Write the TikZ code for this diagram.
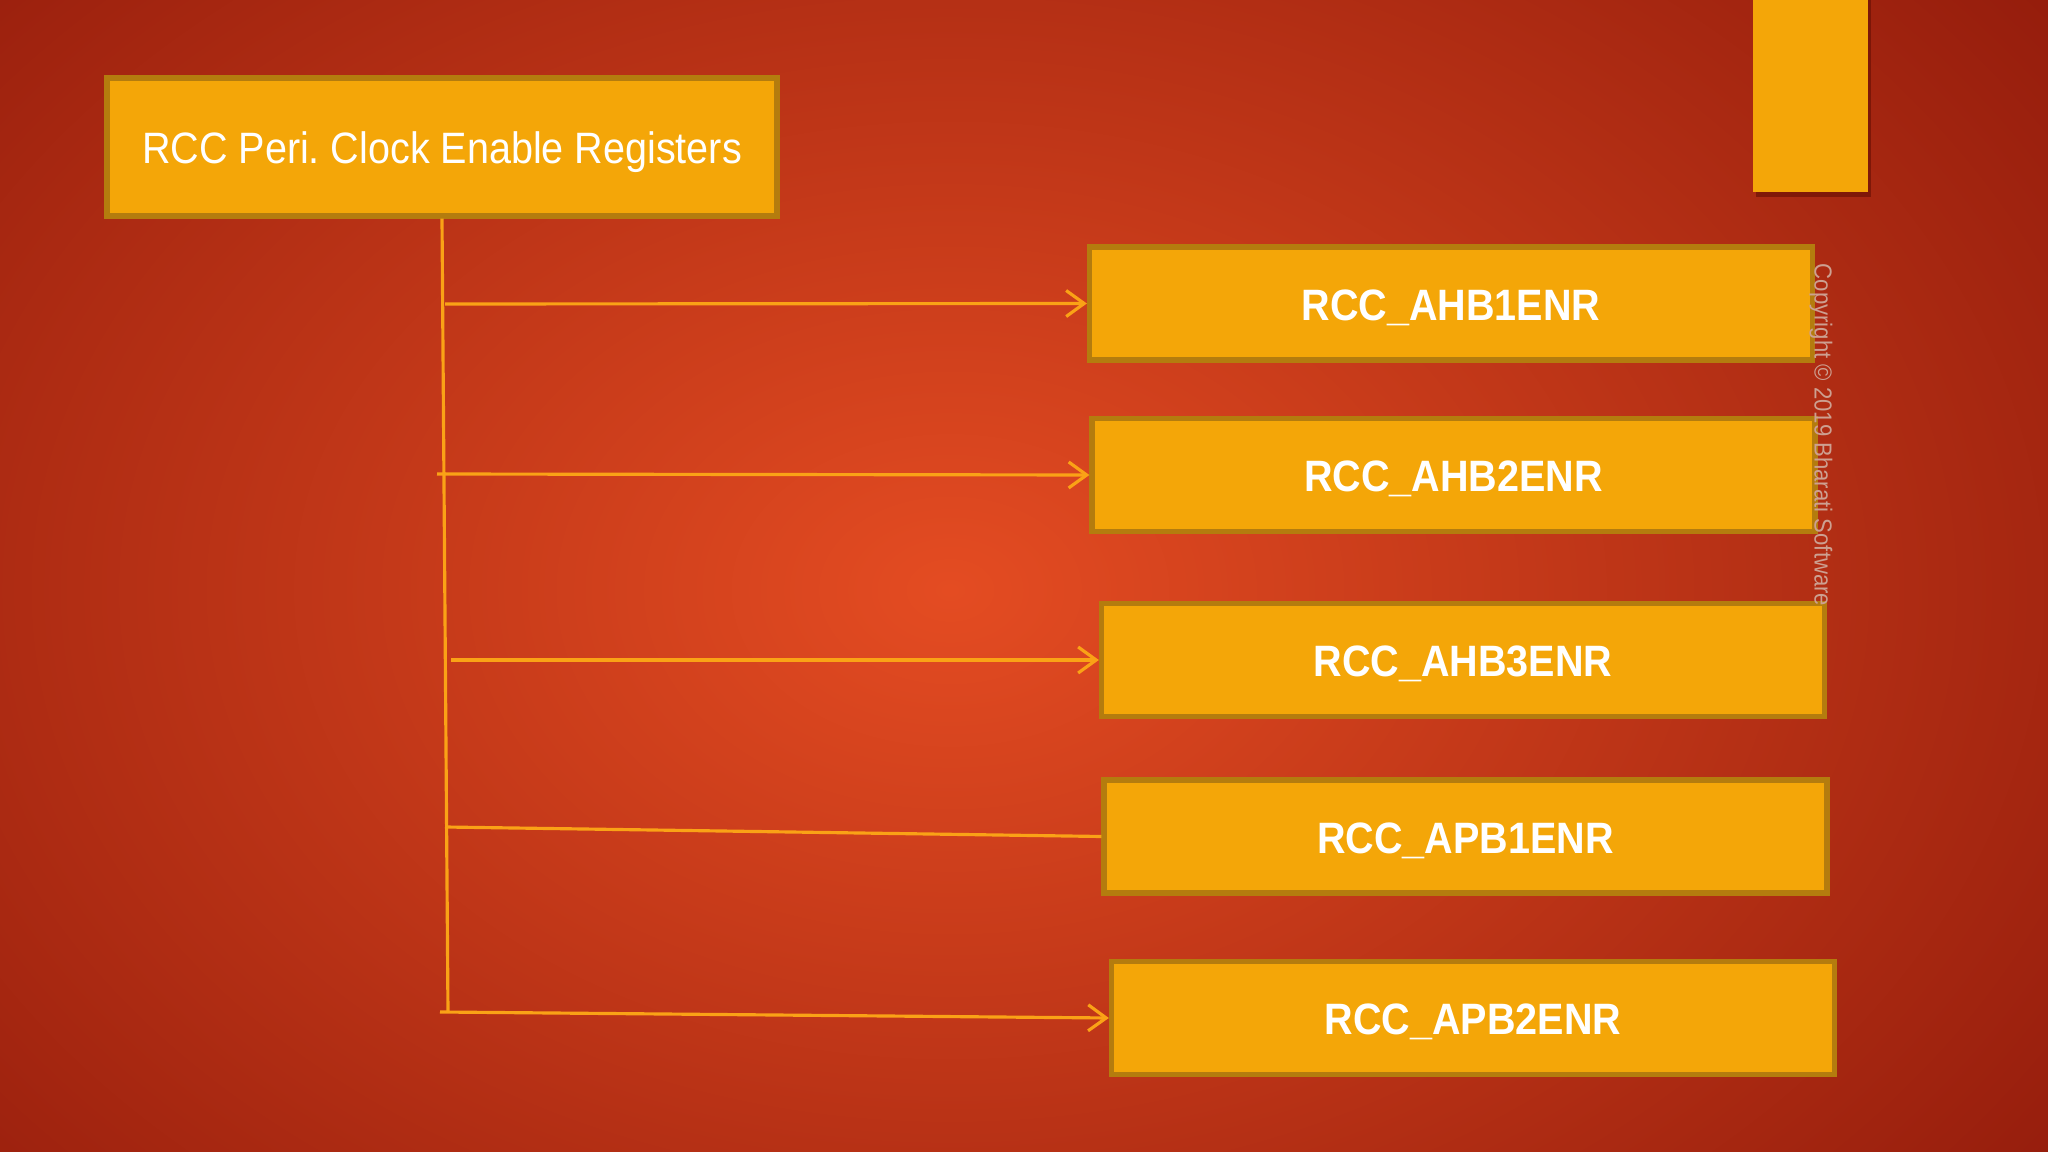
\documentclass[tikz,border=0pt]{standalone}
\usepackage{fontspec}
\setmainfont{Liberation Sans}[FakeStretch=0.9]
\usetikzlibrary{arrows.meta}
\definecolor{boxfill}{RGB}{244,166,8}
\definecolor{boxline}{RGB}{180,124,14}
\definecolor{wire}{RGB}{250,162,22}
\definecolor{bgin}{RGB}{228,76,34}
\definecolor{bgout}{RGB}{128,16,6}
\definecolor{notecol}{RGB}{205,160,145}
\definecolor{shadowcol}{RGB}{100,14,4}
\tikzset{
    heading/.style = {
        draw=boxline,
        fill=boxfill,
        shape=rectangle,
        minimum height=1.38cm,
        minimum width=6.70cm,
        inner sep=0pt,
        line width=1.5pt,
        text=white,
        text height=0.95em,
        text depth=0pt,
        font=\fontsize{12.5}{14}\selectfont
    },
    register/.style = {
        draw=boxline,
        fill=boxfill,
        shape=rectangle,
        minimum height=1.13cm,
        minimum width=7.23cm,
        inner sep=0pt,
        line width=1.5pt,
        text=white,
        text height=0.95em,
        text depth=0pt,
        font=\bfseries\fontsize{12.5}{14}\selectfont
    },
    link/.style = {
        draw=wire,
        line width=0.9pt
    },
    >={Straight Barb[length=1.8mm,width=2.6mm]},
}

\begin{document}
\begin{tikzpicture}
            \useasboundingbox (0,0) rectangle (20.48,-11.52);
            % background
            \begin{scope}
                \clip (0,0) rectangle (20.48,-11.52);
                \fill[bgout] (0,0) rectangle (20.48,-11.52);
                \shade[inner color=bgin, outer color=bgout] (9.5,-5.9) ellipse (17.5cm and 12.5cm);
            \end{scope}
            \fill[shadowcol, opacity=0.6] (17.56,0) rectangle (18.71,-1.97);
            \fill[boxfill] (17.53,0) rectangle (18.68,-1.92);

            \node[heading] (title) at (4.42,-1.47) {RCC Peri.\ Clock Enable Registers};
            \node[register] (ahb1) at (14.51,-3.035) {RCC\_AHB1ENR};
            \node[register] (ahb2) at (14.535,-4.75) {RCC\_AHB2ENR};
            \node[register] (ahb3) at (14.63,-6.60) {RCC\_AHB3ENR};
            \node[register] (apb1) at (14.655,-8.365) {RCC\_APB1ENR};
            \node[register] (apb2) at (14.73,-10.18) {RCC\_APB2ENR};

            \node[rotate=-90, text=notecol, font=\fontsize{7}{8}\selectfont] (note) at (18.21,-4.35) {Copyright \textcopyright{} 2019 Bharati Software};

            \coordinate (b1) at (4.45,-3.04);
            \coordinate (b2) at (4.37,-4.74);
            \coordinate (b3) at (4.51,-6.60);
            \coordinate (b4) at (4.45,-8.27);
            \coordinate (b5) at (4.40,-10.12);
            \coordinate (tbot) at (4.48,-10.12);

            \path[link] (title.south) -- (tbot);
            \path[link, ->] (b1) -- (ahb1.west);
            \path[link, ->] (b2) -- (ahb2.west);
            \path[link, ->] (b3) -- (ahb3.west);
            \path[link] (b4) -- (apb1.west);
            \path[link, ->] (b5) -- (apb2.west);
        \end{tikzpicture}
\end{document}
